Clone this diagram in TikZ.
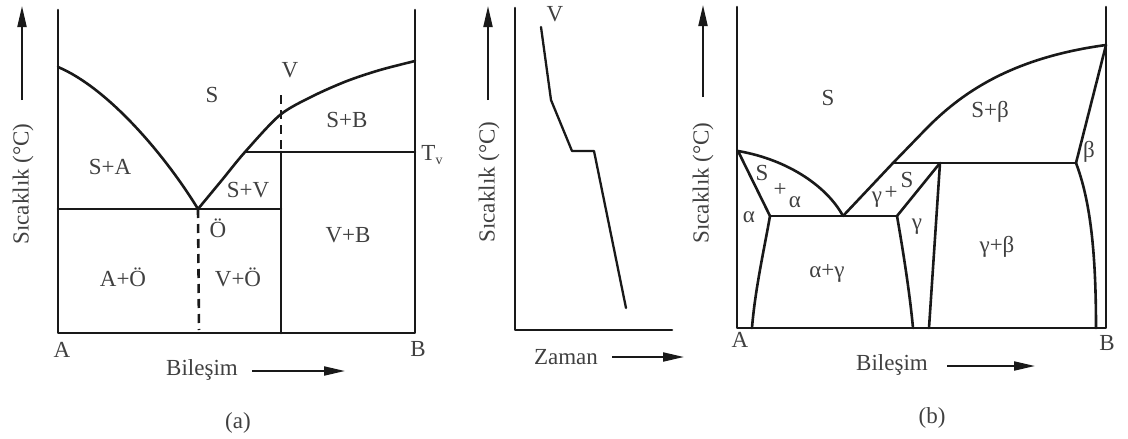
\documentclass[tikz,border=0pt]{standalone}
\usepackage{fontspec}
\setmainfont{Liberation Serif}
\usetikzlibrary{arrows.meta}
\begin{document}
\begin{tikzpicture}[x=1pt,y=-1pt,
  phase/.style={line width=2.6pt, line join=round, line cap=round, draw=black!90},
  lbl/.style={font=\fontsize{23}{26}\selectfont, text=black!75, inner sep=0pt},
  axarrow/.style={line width=2pt, draw=black!90, -{Triangle[length=21pt,width=9pt]}},
  dashedline/.style={line width=2.6pt, draw=black!90, dash pattern=on 9pt off 6pt}]
\useasboundingbox (0,0) rectangle (1128,439);

% ---------------- (a) ----------------
\coordinate (aTL) at (58,10);
\coordinate (aBL) at (58,333);
\coordinate (aBR) at (415,333);
\coordinate (aTR) at (415,10);
\coordinate (aLA) at (58,67);
\coordinate (aE) at (198,209);
\coordinate (aLB) at (415,61);
\coordinate (aEL) at (58,209);
\coordinate (aER) at (281,209);
\coordinate (aTv1) at (245,152);
\coordinate (aTv2) at (415,152);
\coordinate (aV1) at (281,95);
\coordinate (aV2) at (281,152);
\coordinate (aEd) at (199,330);

\draw[phase] (aTL) -- (aBL) -- (aBR) -- (aTR);
\draw[phase] (aLA) .. controls (108,88) and (165,155) .. (aE);
\draw[phase] plot[smooth] coordinates {(aE) (222,180) (aTv1) (280,115) (313,96) (347,81) (380,70) (aLB)};
\draw[phase] (aEL) -- (aER);
\draw[phase] (aTv1) -- (aTv2);
\draw[phase] (aV2) -- (281,333);
\draw[dashedline] (aV1) -- (aV2);
\draw[dashedline] (aE) -- (aEd);

\coordinate (aArr1) at (22,100);
\coordinate (aArr2) at (22,6);
\draw[axarrow] (aArr1) -- (aArr2);
\node[lbl, rotate=90] (aYl) at (23,184) {Sıcaklık (°C)};
\node[lbl] (aXl) at (202,370) {Bileşim};
\coordinate (aXa1) at (252,371);
\coordinate (aXa2) at (345,371);
\draw[axarrow] (aXa1) -- (aXa2);

\node[lbl] (aA) at (62,350) {A};
\node[lbl] (aB) at (418,349) {B};
\node[lbl] (aS) at (212,95) {S};
\node[lbl] (aVl) at (290,70) {V};
\node[lbl] (aSB) at (347,120) {S+B};
\node[lbl] (aSA) at (110,167) {S+A};
\node[lbl] (aSV) at (248,190) {S+V};
\node[lbl] (aO) at (218,228) {Ö};
\node[lbl] (aVB) at (348,235) {V+B};
\node[lbl] (aAO) at (123,277) {A+Ö};
\node[lbl] (aVO) at (238,277) {V+Ö};
\node[lbl] (aTv) at (432,155) {T\raisebox{-0.35ex}{\fontsize{14}{14}\selectfont v}};
\node[lbl] (capa) at (238,423) {(a)};

% ---------------- middle ----------------
\coordinate (mT) at (515,8);
\coordinate (mO) at (515,330);
\coordinate (mR) at (672,330);
\draw[phase] (mT) -- (mO) -- (mR);
\coordinate (c1) at (541,27);
\coordinate (c2) at (551,100);
\coordinate (c3) at (572,151);
\coordinate (c4) at (594,151);
\coordinate (c5) at (626,308);
\draw[phase, line width=2.3pt] (c1) -- (c2) -- (c3) -- (c4) -- (c5);
\node[lbl] (mV) at (555,14) {V};
\coordinate (mArr1) at (488,100);
\coordinate (mArr2) at (488,6);
\draw[axarrow] (mArr1) -- (mArr2);
\node[lbl, rotate=90] (mYl) at (489,182) {Sıcaklık (°C)};
\node[lbl] (mXl) at (566,357) {Zaman};
\coordinate (mXa1) at (612,357);
\coordinate (mXa2) at (684,357);
\draw[axarrow] (mXa1) -- (mXa2);

% ---------------- (b) ----------------
\coordinate (bTL) at (737,7);
\coordinate (bBL) at (737,328);
\coordinate (bBR) at (1106,328);
\coordinate (bTR) at (1106,7);
\draw[phase] (bTL) -- (bBL) -- (bBR) -- (bTR);

\coordinate (bAtop) at (738,151);
\coordinate (bE) at (843,216);
\coordinate (bEa) at (770,216);
\coordinate (bEg) at (897,216);
\coordinate (bP1) at (893,163);
\coordinate (bPg) at (940,163);
\coordinate (bP2) at (1076,163);
\coordinate (bBtop) at (1106,45);

\draw[phase] (bE) -- (bP1) -- (925,130) .. controls (960,94) and (1010,58) .. (bBtop);
\draw[phase] (bAtop) .. controls (790,160) and (828,188) .. (bE);
\draw[phase] (bAtop) -- (bEa);
\draw[phase] (bEa) -- (bEg);
\draw[phase] (bEa) .. controls (764,250) and (755,290) .. (752,328);
\draw[phase] (bEg) -- (bPg);
\draw[phase] (bEg) .. controls (903,250) and (910,295) .. (913,328);
\draw[phase] (bPg) -- (929,328);
\draw[phase] (bP1) -- (bP2);
\draw[phase] (bBtop) -- (bP2);
\draw[phase] (bP2) .. controls (1090,200) and (1096,250) .. (1096,328);

\coordinate (bArr1) at (703,97);
\coordinate (bArr2) at (703,5);
\draw[axarrow] (bArr1) -- (bArr2);
\node[lbl, rotate=90] (bYl) at (703,183) {Sıcaklık (°C)};
\node[lbl] (bXl) at (892,365) {Bileşim};
\coordinate (bXa1) at (947,366);
\coordinate (bXa2) at (1035,366);
\draw[axarrow] (bXa1) -- (bXa2);

\node[lbl] (bA) at (740,340) {A};
\node[lbl] (bB) at (1107,343) {B};
\node[lbl] (bS) at (828,98) {S};
\node[lbl] (bSb) at (990,112) {S+β};
\node[lbl] (bbeta) at (1089,152) {β};
\node[lbl] (bSa1) at (762,173) {S};
\node[lbl] (bSa2) at (780,190) {+};
\node[lbl] (bSa3) at (795,202) {α};
\node[lbl] (bgS1) at (877,200) {γ};
\node[lbl] (bgS2) at (891,193) {+};
\node[lbl] (bgS3) at (907,180) {S};
\node[lbl] (balpha) at (749,217) {α};
\node[lbl] (bgamma) at (917,227) {γ};
\node[lbl] (bgb) at (997,247) {γ+β};
\node[lbl] (bag) at (827,273) {α+γ};
\node[lbl] (capb) at (932,418) {(b)};
\end{tikzpicture}
\end{document}
